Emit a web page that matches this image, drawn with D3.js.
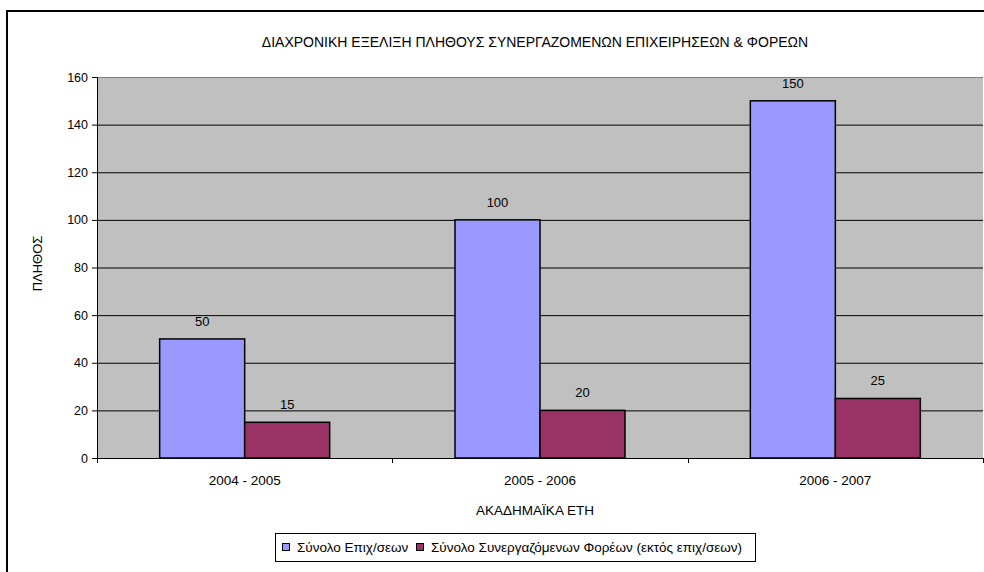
<!DOCTYPE html>
<html><head><meta charset="utf-8">
<script src="https://cdn.jsdelivr.net/npm/d3@7"></script>
<style>body{margin:0;background:#fff}svg{display:block;font-family:"Liberation Sans",Arial,sans-serif}</style>
</head><body>
<svg id="c" width="984" height="572"></svg>
<script>
const categories = ["2004 - 2005", "2005 - 2006", "2006 - 2007"];
const seriesNames = ["Σύνολο Επιχ/σεων", "Σύνολο Συνεργαζόμενων Φορέων (εκτός επιχ/σεων)"];
const seriesA = [50, 100, 150];
const seriesB = [15, 20, 25];
const yTicks = [0, 20, 40, 60, 80, 100, 120, 140, 160];
const colors = ["#9999FF", "#993366"];
const title = "ΔΙΑΧΡΟΝΙΚΗ ΕΞΕΛΙΞΗ ΠΛΗΘΟΥΣ ΣΥΝΕΡΓΑΖΟΜΕΝΩΝ ΕΠΙΧΕΙΡΗΣΕΩΝ & ΦΟΡΕΩΝ";
const yTitle = "ΠΛΗΘΟΣ";
const xTitle = "ΑΚΑΔΗΜΑΪΚΑ ΕΤΗ";

const svg = d3.select("#c");
svg.append("rect").attr("x",7).attr("y",11).attr("width",1000).attr("height",600)
  .attr("fill","#fff").attr("stroke","#000").attr("stroke-width",2);

const L=97, R=983, T=77, B=458;
const x = d3.scaleBand().domain(categories).range([L,R]).paddingInner(0).paddingOuter(0);
const xs = d3.scaleBand().domain([0,1]).range([0,170]);
const y = d3.scaleLinear().domain([0,160]).range([B,T]);

svg.append("rect").attr("x",L).attr("y",T).attr("width",R-L).attr("height",B-T).attr("fill","#C0C0C0");
svg.append("g").selectAll("line").data(yTicks.filter(d=>d>0)).join("line")
  .attr("x1",L).attr("x2",R).attr("y1",d=>y(d)+0.5).attr("y2",d=>y(d)+0.5)
  .attr("stroke",d=>d===160?"#808080":"#000").attr("stroke-width",1);

const data = categories.map((c,i)=>({c, v:[seriesA[i], seriesB[i]]}));
const g = svg.append("g");
data.forEach(d=>{
  const x0 = x(d.c) + (x.bandwidth()-170)/2;
  d.v.forEach((v,j)=>{
    g.append("rect").attr("x",x0+xs(j)).attr("y",y(v)).attr("width",xs.bandwidth()).attr("height",B-y(v))
      .attr("fill",colors[j]).attr("stroke","#000").attr("stroke-width",1.5);
    g.append("text").attr("x",x0+xs(j)+xs.bandwidth()/2).attr("y",y(v)-13)
      .attr("text-anchor","middle").attr("font-size",13).text(v);
  });
});

const ya = svg.append("g").attr("transform",`translate(${L},0)`)
  .call(d3.axisLeft(y).tickValues(yTicks).tickSize(5).tickPadding(4));
ya.selectAll("text").attr("font-size",12.5).attr("fill","#000").attr("font-family","Liberation Sans, Arial, sans-serif");
ya.select(".domain").attr("stroke","#000");

const xa = svg.append("g").attr("transform",`translate(0,${B})`)
  .call(d3.axisBottom(x).tickSize(0).tickPadding(17));
xa.selectAll("text").attr("font-size",13.5).attr("fill","#000").attr("font-family","Liberation Sans, Arial, sans-serif");
xa.select(".domain").attr("stroke","#000").attr("d",`M${L},0.5H${R}`);
xa.append("g").selectAll("line").data([L, x(categories[1]), x(categories[2]), R]).join("line")
  .attr("x1",d=>Math.round(d)+0.5).attr("x2",d=>Math.round(d)+0.5).attr("y1",0).attr("y2",5).attr("stroke","#000");

svg.append("text").attr("x",535).attr("y",47).attr("text-anchor","middle").attr("font-size",14).text(title);
svg.append("text").attr("transform",`translate(42,${(T+B)/2 - 4}) rotate(-90)`).attr("text-anchor","middle").attr("font-size",13).text(yTitle);
svg.append("text").attr("x",535).attr("y",515).attr("text-anchor","middle").attr("font-size",13.5).text(xTitle);

const lg = svg.append("g");
lg.append("rect").attr("x",275.5).attr("y",533.5).attr("width",480).attr("height",28).attr("fill","#fff").attr("stroke","#000");
const lx = [282, 416];
seriesNames.forEach((n,i)=>{
  lg.append("rect").attr("x",lx[i]+0.5).attr("y",543.5).attr("width",7).attr("height",7).attr("fill",colors[i]).attr("stroke","#000");
  lg.append("text").attr("x",lx[i]+15).attr("y",552).attr("font-size",13.5).text(n);
});
</script>
</body></html>
